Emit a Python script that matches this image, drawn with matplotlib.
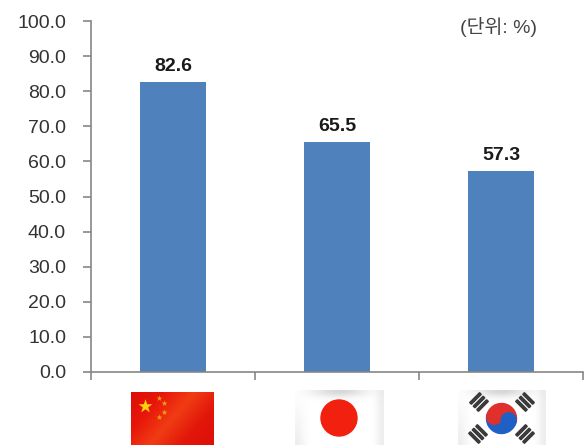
import numpy as np
import matplotlib
matplotlib.use('Agg')
import matplotlib.pyplot as plt
from matplotlib.colors import LinearSegmentedColormap
from matplotlib.patches import Circle, Rectangle, Wedge
from matplotlib.transforms import Affine2D

plt.rcParams['font.family'] = ['Liberation Sans', 'Noto Sans CJK KR', 'DejaVu Sans']

W, H = 587, 445
countries = ['China', 'Japan', 'Korea']
values = [82.6, 65.5, 57.3]
yticks = [0, 10, 20, 30, 40, 50, 60, 70, 80, 90, 100]
unit_label = '(단위: %)'

fig = plt.figure(figsize=(W / 100, H / 100), dpi=100)
ax = fig.add_axes([91 / W, 1 - 372 / H, 492 / W, 351 / H])

# bars
x = np.arange(len(values))
bars = ax.bar(x, values, width=0.4, color='#4f81bd')
for b, v in zip(bars, values):
    ax.annotate(f'{v:.1f}', (b.get_x() + b.get_width() / 2, v), xytext=(0, 7),
                textcoords='offset pixels', ha='center', va='bottom',
                fontsize=14, fontweight='bold', color='#1a1a1a')

ax.set_xlim(-0.5, 2.5)
ax.set_ylim(0, 100)
ax.set_yticks(yticks)
ax.set_yticklabels([f'{t:.1f}' for t in yticks], fontsize=14, color='#333333')
ax.set_xticks([-0.5, 0.5, 1.5, 2.5])
ax.set_xticklabels([])
ax.tick_params(axis='both', direction='out', length=6, width=1.2, color='#868686')
ax.tick_params(axis='y', pad=12)
for side in ['top', 'right']:
    ax.spines[side].set_visible(False)
for side in ['left', 'bottom']:
    ax.spines[side].set_color('#868686')
    ax.spines[side].set_linewidth(1.2)

fig.text(498 / W, 1 - 27 / H, unit_label, fontsize=14, color='#444444',
         ha='center', va='center')

# flags go on an overlay in pixel coordinates
ov = fig.add_axes([0, 0, 1, 1], zorder=5)
ov.set_xlim(0, W)
ov.set_ylim(H, 0)
ov.axis('off')


def sheen(extent, colors):
    # diagonal shading across the red flag
    xx, yy = np.meshgrid(np.linspace(0, 1, 60), np.linspace(0, 1, 40))
    cmap = LinearSegmentedColormap.from_list('sheen', colors)
    ov.imshow(xx * 0.65 + yy * 0.35, extent=extent, cmap=cmap, vmin=0, vmax=1,
              aspect='auto', interpolation='bilinear', zorder=1)


def cloth(extent):
    # white cloth, a grey fold along the top, grey fading in at the sides
    xx, yy = np.meshgrid(np.linspace(0, 1, 60), np.linspace(0, 1, 40))
    fold = 0.16 * np.exp(-(yy / 0.12) ** 2) * np.exp(-((xx - 0.5) / 0.3) ** 2)
    side = 0.07 * np.exp(-(xx / 0.1) ** 2) * yy + 0.07 * np.exp(-((1 - xx) / 0.08) ** 2)
    ov.imshow(1 - fold - side, extent=extent, cmap='gray', vmin=0, vmax=1,
              aspect='auto', interpolation='bilinear', zorder=1)


# China
sheen((131, 214, 445, 392), ['#dc0f08', '#e8160a', '#f03c14', '#e2160a', '#dc1008'])
ov.scatter([145], [406], marker='*', s=110, color='#fcd00c', linewidths=0, zorder=2)
ov.scatter([159, 164, 164, 159], [398, 403, 412, 417], marker='*', s=20,
           color='#f29a14', linewidths=0, zorder=2)

# Japan
cloth((295, 384, 445, 390))
ov.add_patch(Circle((339, 418), 18, color='#f2200e', zorder=2))

# Korea
cloth((458, 546, 445, 390))
cx, cy = 501.5, 418.5
tilt = np.radians(14)
dx, dy = 7.4 * np.cos(tilt), 7.4 * np.sin(tilt)
ov.add_patch(Wedge((cx, cy), 15, 194, 374, color='#e0302c', zorder=2))
ov.add_patch(Wedge((cx, cy), 15, 14, 194, color='#2060c4', zorder=2))
# the two small lobes of the taegeuk (y axis is inverted here)
ov.add_patch(Circle((cx - dx, cy - dy), 7.5, color='#e0302c', zorder=3))
ov.add_patch(Circle((cx + dx, cy + dy), 7.5, color='#2060c4', zorder=3))

# trigrams at the four corners
for tx, ty, ang in [(479, 402, -45), (525, 402, 45), (478, 434, 45), (525, 434, -45)]:
    for off in (-5, 0, 5):
        t = Affine2D().rotate_deg(ang).translate(tx, ty) + ov.transData
        ov.add_patch(Rectangle((-7, off - 1.2), 14, 2.4, color='#3a3a3a', transform=t, zorder=2))

fig.savefig('out.png', dpi=100)
